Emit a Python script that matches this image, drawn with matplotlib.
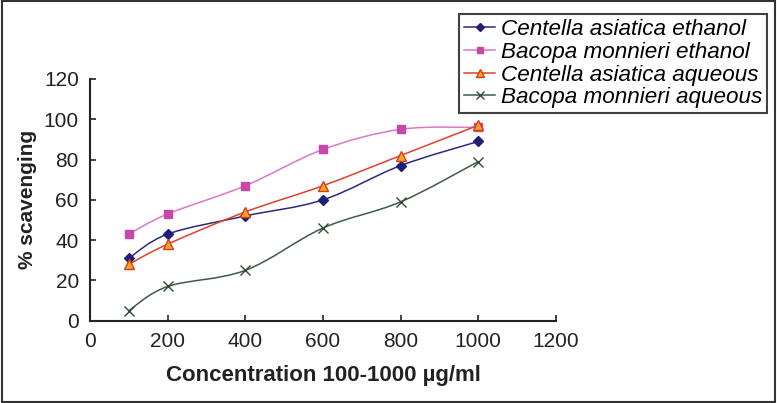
import numpy as np
import matplotlib.pyplot as plt
from matplotlib.path import Path
from matplotlib.patches import PathPatch, Rectangle

plt.rcParams['font.family'] = ['Liberation Sans', 'DejaVu Sans']

conc = [100, 200, 400, 600, 800, 1000]
centella_eth = [31, 43, 52, 60, 77, 89]
bacopa_eth = [43, 53, 67, 85, 95, 96]
centella_aq = [28, 38, 54, 67, 82, 97]
bacopa_aq = [5, 17, 25, 46, 59, 79]

labels = ['Centella asiatica ethanol', 'Bacopa monnieri ethanol',
          'Centella asiatica aqueous', 'Bacopa monnieri aqueous']


def smooth_path(x, y, t=0.17):
    # bezier smoothing like a spreadsheet "smoothed line"
    x = np.asarray(x, float)
    y = np.asarray(y, float)
    n = len(x)
    verts = [(x[0], y[0])]
    codes = [Path.MOVETO]
    for i in range(n - 1):
        p0 = np.array([x[max(i - 1, 0)], y[max(i - 1, 0)]])
        p1 = np.array([x[i], y[i]])
        p2 = np.array([x[i + 1], y[i + 1]])
        p3 = np.array([x[min(i + 2, n - 1)], y[min(i + 2, n - 1)]])
        c1 = p1 + (p2 - p0) * t
        c2 = p2 - (p3 - p1) * t
        verts += [tuple(c1), tuple(c2), tuple(p2)]
        codes += [Path.CURVE4] * 3
    return Path(verts, codes)


fig = plt.figure(figsize=(7.77, 4.03), dpi=100)
ax = fig.add_axes([0.1158, 0.2042, 0.5997, 0.5998])

series = [
    (centella_eth, '#2a2a80', 'D', '#1f1f78', '#1f1f78', 5),
    (bacopa_eth, '#d77ac8', 's', '#c848a8', '#c848a8', 6),
    (centella_aq, '#e0402a', '^', '#f5a623', '#d83a20', 7),
    (bacopa_aq, '#3f5a45', 'x', '#2f4a35', '#2f4a35', 7),
]

handles = []
for (vals, lc, mk, mfc, mec, ms), lab in zip(series, labels):
    ax.add_patch(PathPatch(smooth_path(conc, vals), fill=False, edgecolor=lc, lw=1.1))
    ax.plot(conc, vals, linestyle='none', marker=mk, markersize=ms,
            markerfacecolor=mfc, markeredgecolor=mec, markeredgewidth=1.0)
    h, = ax.plot([], [], color=lc, lw=1.1, marker=mk, markersize=ms - 1,
                 markerfacecolor=mfc, markeredgecolor=mec)
    handles.append(h)

ax.set_xlim(0, 1200)
ax.set_ylim(0, 120)
ax.set_xticks(range(0, 1201, 200))
ax.set_yticks(range(0, 121, 20))
ax.spines['top'].set_visible(False)
ax.spines['right'].set_visible(False)
for s in ['left', 'bottom']:
    ax.spines[s].set_linewidth(1.5)
    ax.spines[s].set_color('#222222')
ax.tick_params(direction='in', length=4, width=1.2, labelsize=15, colors='#222222', pad=8)

ax.set_xlabel('Concentration 100-1000 µg/ml', fontsize=16, fontweight='bold', color='#222222', labelpad=10)
ax.set_ylabel('% scavenging', fontsize=15, fontweight='bold', color='#222222', labelpad=5)

leg = fig.legend(handles, labels, loc='upper left', bbox_to_anchor=(0.5907, 0.9653),
                 prop={'style': 'italic', 'size': 16.2}, frameon=True, fancybox=False,
                 handlelength=1.4, handletextpad=0.25, borderpad=0.22, labelspacing=0.08,
                 borderaxespad=0)
leg.get_frame().set_edgecolor('#111111')
leg.get_frame().set_linewidth(1.5)

fig.patches.append(Rectangle((0.002, 0.003), 0.996, 0.994, transform=fig.transFigure,
                             fill=False, edgecolor='#333333', lw=1.5))

fig.savefig('out.png', dpi=100)
